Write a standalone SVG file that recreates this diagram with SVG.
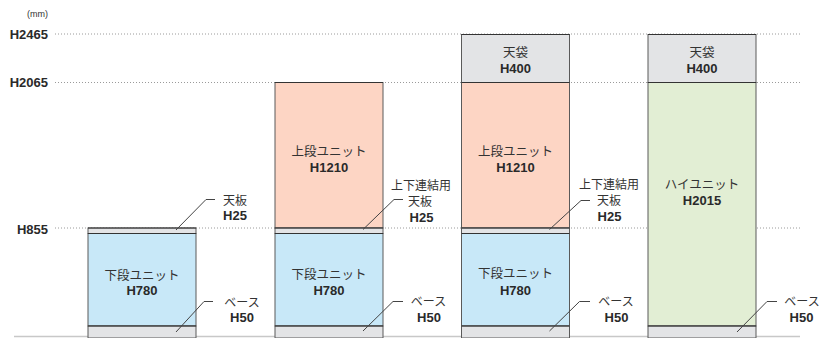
<svg xmlns="http://www.w3.org/2000/svg" width="825" height="338" viewBox="0 0 825 338">
<style>
.jp{font-family:"Noto Sans CJK JP","Noto Sans",sans-serif;font-size:12.5px;fill:#333;text-anchor:middle}
.jps{font-family:"Noto Sans CJK JP","Noto Sans",sans-serif;font-size:12px;fill:#333;text-anchor:middle}
.num{font-family:"Liberation Sans",Arial,sans-serif;font-size:13px;font-weight:bold;fill:#2a2a2a;text-anchor:middle}
.axis{font-family:"Liberation Sans",Arial,sans-serif;font-size:13px;font-weight:bold;fill:#2a2a2a;text-anchor:end}
.unit{font-family:"Liberation Sans",Arial,sans-serif;font-size:9px;fill:#333;text-anchor:end}
.dot{stroke:#9a9a9a;stroke-width:1;stroke-dasharray:1 2;fill:none}
.box{stroke:#5a5a5a;stroke-width:1}
.div{stroke:#333;stroke-width:1.2}
.gray{fill:#e3e4e6}
.blue{fill:#c8e8f8}
.salmon{fill:#fdd5c4}
.green{fill:#e2eed4}
.lead{stroke:#444;stroke-width:1;fill:none}
</style>
<g id="axis">
<text class="unit" x="48" y="17">(mm)</text>
<text class="axis" x="48" y="38.5">H2465</text>
<text class="axis" x="48" y="87">H2065</text>
<text class="axis" x="48" y="233.5">H855</text>
<line class="dot" x1="55" y1="34" x2="800" y2="34"/>
<line class="dot" x1="55" y1="82.5" x2="800" y2="82.5"/>
<line class="dot" x1="55" y1="228" x2="800" y2="228"/>
<line x1="14" y1="336.5" x2="800" y2="336.5" stroke="#c8c8c8" stroke-width="1.5"/>
</g>
<g id="col1">
<rect class="box gray" x="88" y="228" width="108" height="5.5"/>
<rect class="box blue" x="88" y="233.5" width="108" height="92.5"/>
<rect class="box gray" x="88" y="326" width="108" height="12"/>
<line class="div" x1="88" y1="228" x2="196" y2="228"/>
<line class="div" x1="88" y1="233.5" x2="196" y2="233.5"/>
<line class="div" x1="88" y1="326" x2="196" y2="326"/>
<text class="jp" x="142" y="279.5">下段ユニット</text>
<text class="num" x="142" y="295">H780</text>
</g>
<g id="col2">
<rect class="box salmon" x="275" y="82.5" width="108" height="145.5"/>
<rect class="box gray" x="275" y="228" width="108" height="5.5"/>
<rect class="box blue" x="275" y="233.5" width="108" height="92.5"/>
<rect class="box gray" x="275" y="326" width="108" height="12"/>
<line class="div" x1="275" y1="82.5" x2="383" y2="82.5"/>
<line class="div" x1="275" y1="228" x2="383" y2="228"/>
<line class="div" x1="275" y1="233.5" x2="383" y2="233.5"/>
<line class="div" x1="275" y1="326" x2="383" y2="326"/>
<text class="jp" x="329" y="155.5">上段ユニット</text>
<text class="num" x="329" y="172">H1210</text>
<text class="jp" x="329" y="278.5">下段ユニット</text>
<text class="num" x="329" y="295">H780</text>
</g>
<g id="col3">
<rect class="box gray" x="461.5" y="34.5" width="108" height="48"/>
<rect class="box salmon" x="461.5" y="82.5" width="108" height="145.5"/>
<rect class="box gray" x="461.5" y="228" width="108" height="5.5"/>
<rect class="box blue" x="461.5" y="233.5" width="108" height="92.5"/>
<rect class="box gray" x="461.5" y="326" width="108" height="12"/>
<line class="div" x1="461.5" y1="34.5" x2="569.5" y2="34.5"/>
<line class="div" x1="461.5" y1="82.5" x2="569.5" y2="82.5"/>
<line class="div" x1="461.5" y1="228" x2="569.5" y2="228"/>
<line class="div" x1="461.5" y1="233.5" x2="569.5" y2="233.5"/>
<line class="div" x1="461.5" y1="326" x2="569.5" y2="326"/>
<text class="jp" x="515.5" y="57">天袋</text>
<text class="num" x="515.5" y="72.5">H400</text>
<text class="jp" x="515.5" y="156">上段ユニット</text>
<text class="num" x="515.5" y="171.5">H1210</text>
<text class="jp" x="515.5" y="278">下段ユニット</text>
<text class="num" x="515.5" y="295">H780</text>
</g>
<g id="col4">
<rect class="box gray" x="648" y="34.5" width="108" height="48"/>
<rect class="box green" x="648" y="82.5" width="108" height="243.5"/>
<rect class="box gray" x="648" y="326" width="108" height="12"/>
<line class="div" x1="648" y1="34.5" x2="756" y2="34.5"/>
<line class="div" x1="648" y1="82.5" x2="756" y2="82.5"/>
<line class="div" x1="648" y1="326" x2="756" y2="326"/>
<text class="jp" x="702" y="57">天袋</text>
<text class="num" x="702" y="72.5">H400</text>
<text class="jp" x="702" y="188.5">ハイユニット</text>
<text class="num" x="702" y="205">H2015</text>
</g>
<g id="connectors">
<polyline class="lead" points="176,230 206,199.5 215,199.5"/>
<polyline class="lead" points="176,332 204,301.5 213,301.5"/>
<polyline class="lead" points="363,229.5 394,199.5 403,199.5"/>
<polyline class="lead" points="363,331 393,301.5 403,301.5"/>
<polyline class="lead" points="549.5,229.5 581,200.5 590,200.5"/>
<polyline class="lead" points="549.5,331 579.5,301.5 590,301.5"/>
<polyline class="lead" points="737,332 767,301.5 777,301.5"/>
</g>
<g id="labels">
<text class="jps" x="235" y="204.5">天板</text>
<text class="num" x="235" y="220">H25</text>
<text class="jps" x="242" y="307">ベース</text>
<text class="num" x="242" y="322">H50</text>
<text class="jps" x="421" y="190">上下連結用</text>
<text class="jps" x="420" y="206">天板</text>
<text class="num" x="421.5" y="222">H25</text>
<text class="jps" x="428.5" y="306">ベース</text>
<text class="num" x="429" y="322">H50</text>
<text class="jps" x="609" y="188.5">上下連結用</text>
<text class="jps" x="609" y="205">天板</text>
<text class="num" x="609.5" y="221">H25</text>
<text class="jps" x="616" y="306">ベース</text>
<text class="num" x="616.5" y="322">H50</text>
<text class="jps" x="802" y="306">ベース</text>
<text class="num" x="801.5" y="322">H50</text>
</g>
</svg>
